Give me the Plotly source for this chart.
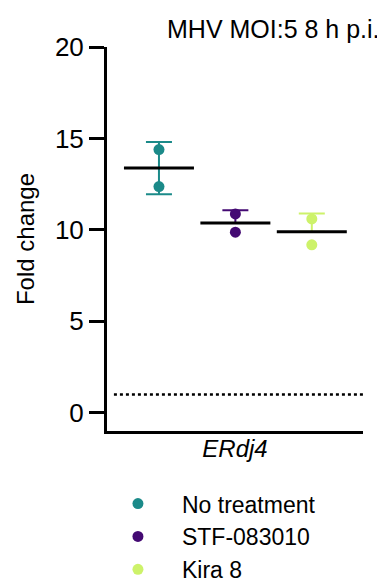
import numpy as np
import plotly.graph_objects as go

groups = ["No treatment", "STF-083010", "Kira 8"]
colors = ["#1b8a89", "#440a73", "#cdf26a"]
values = [[14.39, 12.37], [10.87, 9.87], [10.60, 9.18]]
show_lower = [True, False, False]
gene = "ERdj4"
title = "MHV MOI:5 8 h p.i."
ytick_vals = [0, 5, 10, 15, 20]
baseline = 1

FONT = "Liberation Sans, Arial, sans-serif"
fig = go.Figure()

for i, (g, c, v) in enumerate(zip(groups, colors, values)):
    m = float(np.mean(v))
    sd = float(np.std(v, ddof=1))
    fig.add_trace(go.Scatter(
        x=[i], y=[m], mode="markers",
        marker=dict(size=1, color="rgba(0,0,0,0)"),
        error_y=dict(type="data", symmetric=False, array=[sd],
                     arrayminus=[sd if show_lower[i] else 0],
                     color=c, thickness=2, width=13),
        showlegend=False, hoverinfo="skip"))
    fig.add_trace(go.Scatter(
        x=[i] * len(v), y=v, mode="markers", name=g,
        marker=dict(size=11, color=c), showlegend=True))
    fig.add_trace(go.Scatter(
        x=[i], y=[m], mode="markers",
        marker=dict(symbol="line-ew", size=50,
                    line=dict(width=3, color="black")),
        showlegend=False, hoverinfo="skip"))

fig.add_shape(type="line", xref="paper", yref="y",
              x0=0.027, x1=1.0, y0=baseline, y1=baseline,
              line=dict(color="black", width=2.5, dash="dot"))

fig.add_annotation(text=title, xref="paper", yref="paper",
                   x=1.074, y=1.047, xanchor="right", yanchor="middle",
                   showarrow=False, font=dict(size=25, color="black", family=FONT))

fig.update_layout(
    width=377, height=574,
    margin=dict(l=99, r=22, t=39, b=151, autoexpand=False),
    plot_bgcolor="white", paper_bgcolor="white",
    font=dict(family=FONT, size=24, color="black"),
    xaxis=dict(range=[-0.68, 2.67], showgrid=False, zeroline=False,
               showline=True, linecolor="black", linewidth=3,
               showticklabels=False, ticks="", automargin=False,
               title=dict(text="<i>" + gene + "</i>", standoff=8,
                          font=dict(size=24))),
    yaxis=dict(range=[-1, 20], showgrid=False, zeroline=False,
               showline=True, linecolor="black", linewidth=3,
               tickvals=ytick_vals, ticks="outside", ticklen=15,
               tickwidth=2.5, tickcolor="black", automargin=False,
               tickfont=dict(size=26), ticklabelstandoff=0,
               title=dict(text="Fold change", standoff=14,
                          font=dict(size=24))),
    legend=dict(x=-0.051, y=-0.133, xanchor="left", yanchor="top",
                font=dict(size=23), itemwidth=78, tracegroupgap=0,
                bgcolor="rgba(0,0,0,0)"),
)

fig.write_html("out.html")
